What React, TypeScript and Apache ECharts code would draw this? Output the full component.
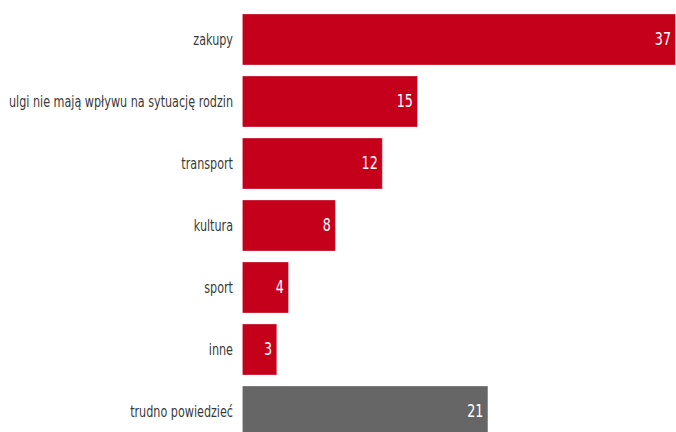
import React, { useEffect, useRef } from "react";
import * as echarts from "echarts";

const categories = [
  "zakupy",
  "ulgi nie mają wpływu na sytuację rodzin",
  "transport",
  "kultura",
  "sport",
  "inne",
  "trudno powiedzieć",
];
const values = [37, 15, 12, 8, 4, 3, 21];
const barColors = ["#C5001A", "#C5001A", "#C5001A", "#C5001A", "#C5001A", "#C5001A", "#666666"];

const FONT = "'DejaVu Sans Condensed', 'DejaVu Sans', sans-serif";
// the reference uses horizontally condensed lettering
const SQUEEZE = 0.83;
const W = 676 / SQUEEZE;

export default function App() {
  const ref = useRef<HTMLDivElement>(null);
  useEffect(() => {
    if (!ref.current) return;
    const chart = echarts.init(ref.current, undefined, { renderer: "svg" });
    chart.setOption({
      animation: false,
      backgroundColor: "#ffffff",
      grid: {
        left: 242 / SQUEEZE,
        top: 8.5,
        width: 434 / SQUEEZE,
        height: 434,
        containLabel: false,
        outerBoundsMode: "none",
      },
      xAxis: {
        type: "value",
        min: 0,
        max: 37,
        show: false,
      },
      yAxis: {
        type: "category",
        data: categories,
        inverse: true,
        axisLine: { show: false },
        axisTick: { show: false },
        axisLabel: {
          color: "#3a3a3a",
          fontFamily: FONT,
          fontSize: 15,
          margin: 9 / SQUEEZE,
        },
      },
      series: [
        {
          type: "bar",
          data: values.map((v, i) => ({
            value: v,
            itemStyle: { color: barColors[i], borderColor: "rgba(255,255,255,0.35)", borderWidth: 1 },
          })),
          barCategoryGap: "16%",
          label: {
            show: true,
            position: "insideRight",
            distance: 5 / SQUEEZE,
            color: "#ffffff",
            fontFamily: FONT,
            fontSize: 17,
          },
        },
      ],
    });
    return () => chart.dispose();
  }, []);
  return (
    <div
      style={{
        position: "fixed",
        left: 0,
        top: 0,
        width: 676,
        height: 432,
        overflow: "hidden",
        background: "#ffffff",
      }}
    >
      <div
        ref={ref}
        style={{
          width: W,
          height: 450,
          transform: `scaleX(${SQUEEZE})`,
          transformOrigin: "0 0",
        }}
      />
    </div>
  );
}
